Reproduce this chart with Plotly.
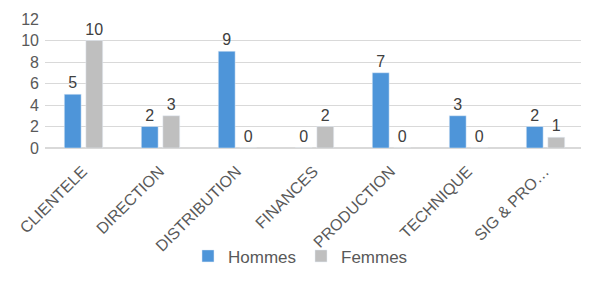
import plotly.graph_objects as go

categories = ["CLIENTELE", "DIRECTION", "DISTRIBUTION", "FINANCES", "PRODUCTION", "TECHNIQUE", "SIG & PRO…"]
hommes = [5, 2, 9, 0, 7, 3, 2]
femmes = [10, 3, 0, 2, 0, 0, 1]
y_ticks = [0, 2, 4, 6, 8, 10, 12]

font_fam = "Liberation Sans, Arial, sans-serif"
txt_col = "#595959"

fig = go.Figure()
fig.add_trace(go.Bar(name="Hommes", x=categories, y=hommes, marker_color="#4E95D9",
                     text=hommes, textposition="outside", cliponaxis=False, constraintext="none",
                     textfont=dict(size=16, color="#404040", family=font_fam)))
fig.add_trace(go.Bar(name="Femmes", x=categories, y=femmes, marker_color="#BFBFBF",
                     text=femmes, textposition="outside", cliponaxis=False, constraintext="none",
                     textfont=dict(size=16, color="#404040", family=font_fam)))

fig.update_layout(
    width=581, height=285,
    margin=dict(l=37, r=5, t=11, b=145, autoexpand=False),
    paper_bgcolor="white", plot_bgcolor="white",
    barmode="group", bargap=0.44, bargroupgap=0.22,
    font=dict(family=font_fam, color=txt_col, size=14),
    showlegend=True,
    legend=dict(orientation="h", x=0.474, xanchor="center", y=-0.84, yanchor="middle",
                font=dict(size=17, color=txt_col), itemwidth=30,
                bgcolor="rgba(0,0,0,0)"),
)
fig.update_xaxes(tickangle=-45, tickfont=dict(size=16, color=txt_col), showline=False,
                 ticks="", automargin=False, ticklabelstandoff=10, ticklabelshift=-1)
fig.update_yaxes(range=[0, 12], tickvals=y_ticks, showgrid=True, gridcolor="#D9D9D9",
                 gridwidth=1, zeroline=True, zerolinecolor="#D9D9D9", ticks="",
                 tickfont=dict(size=16, color=txt_col), automargin=False,
                 ticklabelstandoff=5)

fig.write_html("out.html")
